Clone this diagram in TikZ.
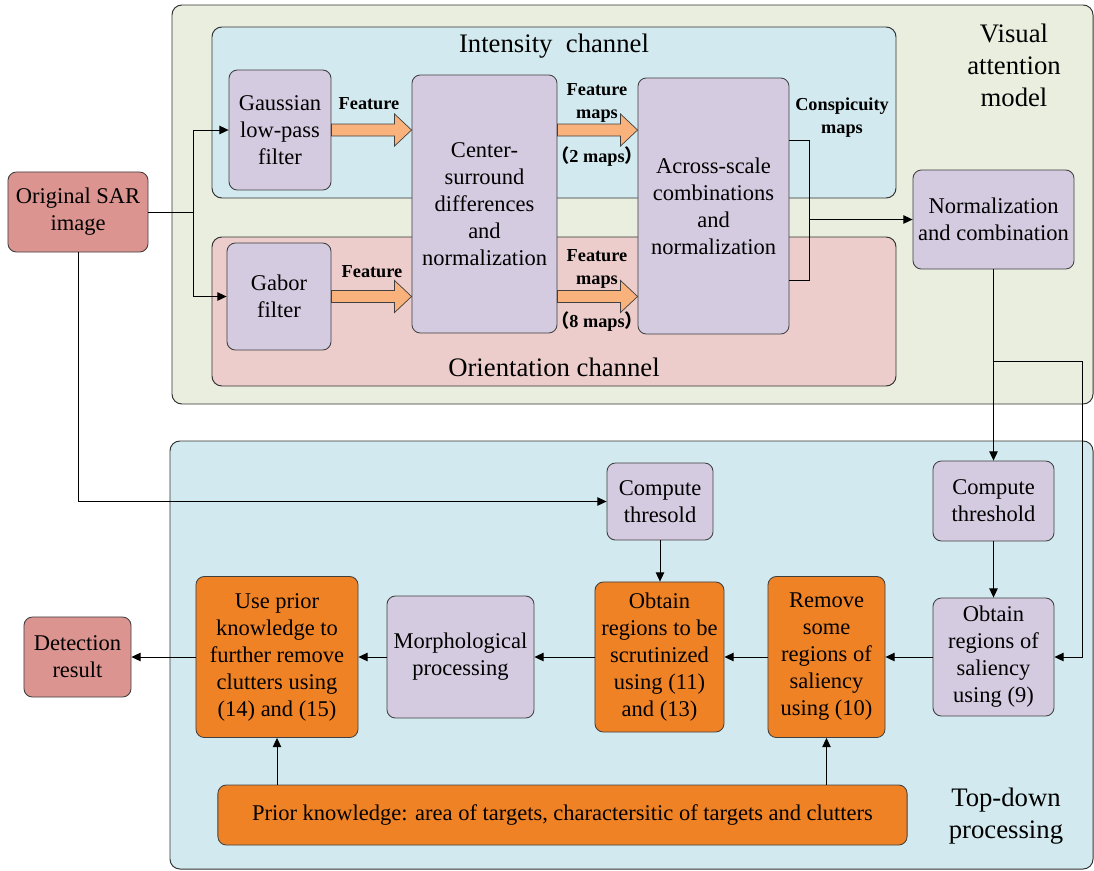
\documentclass[tikz,border=0pt]{standalone}
\usepackage{fontspec}
\setmainfont{Liberation Serif}
\newfontfamily\cjk{Noto Sans CJK SC}
\usepackage{xcolor}
\usetikzlibrary{calc,arrows.meta}
\definecolor{attncolor}{HTML}{EAEEDE}
\definecolor{intcolor}{HTML}{D2EAEF}
\definecolor{oricolor}{HTML}{ECCDCB}
\definecolor{topdowncolor}{HTML}{D2EAEF}
\definecolor{stepcolor}{HTML}{D4CBE0}
\definecolor{iocolor}{HTML}{DB9490}
\definecolor{rulecolor}{HTML}{F08226}
\definecolor{fatcolor}{HTML}{F9B27B}
\tikzset{
  panel/.style={draw=black!80, line width=0.7pt, rounded corners=7pt},
  box/.style={draw=black!75, line width=0.6pt, rounded corners=6pt, align=center, inner sep=0pt, font=\fontsize{16}{19.2}\selectfont},
  stepbox/.style={box, fill=stepcolor},
  iobox/.style={box, fill=iocolor},
  rulebox/.style={box, fill=rulecolor},
  link/.style={draw=black, line width=0.6pt},
  arr/.style={link, -{Triangle[length=6.5pt,width=6pt]}},
  fatarr/.style={draw=black!75, line width=0.5pt, fill=fatcolor},
  maplabel/.style={font=\bfseries\fontsize{13}{16.3}\selectfont, align=center, inner sep=0pt},
  paneltitle/.style={font=\fontsize{19}{22.7}\selectfont, align=center, inner sep=0pt}
}
\newcommand\fatarrow[2]{\draw[fatarr] ($(#1)+(0,-6)$) -- ($(#2)+(-17,-6)$) -- ($(#2)+(-17,-16)$) -- (#2) -- ($(#2)+(-17,16)$) -- ($(#2)+(-17,6)$) -- ($(#1)+(0,6)$) -- cycle;}
\begin{document}
\begin{tikzpicture}[x=0.025cm, y=-0.025cm]%
\useasboundingbox (0,0) rectangle (1094,870);%
\draw[panel, fill=attncolor] (172,5) rectangle (1093,404);%
\draw[panel, fill=intcolor] (212,27) rectangle (896,198);%
\draw[panel, fill=oricolor] (212,237) rectangle (896,386);%
\draw[panel, fill=topdowncolor] (170,441) rectangle (1093,869);%
\node[paneltitle] (inttitle) at (554,46) {Intensity\ \ channel};%
\node[paneltitle] (orititle) at (554,367) {Orientation channel};%
\node[paneltitle] (attntitle) at (1014,65) {Visual\\attention\\model};%
\node[paneltitle] (tdtitle) at (1006,816) {Top-down\\processing};%
\node[iobox, minimum width=3.5cm, minimum height=2cm] (sar) at (78,212) {Original SAR\\image};%
\node[stepbox, minimum width=2.55cm, minimum height=3cm] (gauss) at (280,130) {Gaussian\\low-pass\\filter};%
\node[stepbox, minimum width=2.6cm, minimum height=2.675cm] (gabor) at (279,296.5) {Gabor\\filter};%
\node[stepbox, minimum width=3.625cm, minimum height=6.45cm] (csd) at (484.5,204) {Center-\\surround\\differences\\and\\normalization};%
\node[stepbox, minimum width=3.775cm, minimum height=6.4cm] (across) at (713.5,206) {Across-scale\\combinations\\and\\normalization};%
\node[stepbox, minimum width=4.025cm, minimum height=2.475cm] (normc) at (993.5,219.5) {Normalization\\and combination};%
\node[stepbox, minimum width=2.65cm, minimum height=1.925cm] (cthrA) at (660,501.5) {Compute\\thresold};%
\node[stepbox, minimum width=3.025cm, minimum height=2cm] (cthrB) at (993.5,501) {Compute\\threshold};%
\node[stepbox, minimum width=3.025cm, minimum height=2.95cm] (salreg) at (993.5,657) {Obtain\\regions of\\saliency\\using (9)};%
\node[rulebox, minimum width=2.925cm, minimum height=4.025cm] (remove) at (826.5,657) {Remove\\some\\regions of\\saliency\\using (10)};%
\node[rulebox, minimum width=3.225cm, minimum height=3.75cm] (scrut) at (659.5,657) {Obtain\\regions to be\\scrutinized\\using (11)\\and (13)};%
\node[stepbox, minimum width=3.675cm, minimum height=3.05cm] (morph) at (460.5,657) {Morphological\\processing};%
\node[rulebox, minimum width=4.05cm, minimum height=4.025cm] (useprior) at (277,657) {Use prior\\knowledge to\\further remove\\clutters using\\(14) and (15)};%
\node[iobox, minimum width=2.675cm, minimum height=2cm] (detect) at (77.5,657) {Detection\\result};%
\node[rulebox, minimum width=17.225cm, minimum height=1.5cm] (prior) at (562.5,815) {Prior knowledge: area of targets, charactersitic of targets and clutters};%
\coordinate (fA) at (gauss.east -| csd.west);%
\coordinate (fB) at (gabor.east -| csd.west);%
\coordinate (mA0) at (csd.east |- gauss.east);%
\coordinate (mA) at (across.west |- gauss.east);%
\coordinate (mB0) at (csd.east |- gabor.east);%
\coordinate (mB) at (across.west |- gabor.east);%
\fatarrow{gauss.east}{fA}%
\fatarrow{gabor.east}{fB}%
\fatarrow{mA0}{mA}%
\fatarrow{mB0}{mB}%
\node[maplabel] (featA) at (369,104) {Feature};%
\node[maplabel] (featB) at (372,272) {Feature};%
\node[maplabel] (mapsA) at (597,103) {Feature\\maps};%
\node[maplabel] (cntA) at (597,157) {{\cjk （}2 maps{\cjk ）}};%
\node[maplabel] (mapsB) at (597,269) {Feature\\maps};%
\node[maplabel] (cntB) at (597,322) {{\cjk （}8 maps{\cjk ）}};%
\node[maplabel] (consp) at (842,118) {Conspicuity\\maps};%
\coordinate (split) at ($(sar.east)+(45,0)$);%
\draw[link] (sar.east) -- (split);%
\draw[arr] (split) |- (gauss.west);%
\draw[arr] (split) |- (gabor.west);%
\draw[arr] (sar.south) |- (cthrA.west);%
\coordinate (merge) at ($(normc.west)+(-103,0)$);%
\coordinate (bktA) at ($(across.east)+(0,-66)$);%
\coordinate (bktB) at ($(across.east)+(0,74)$);%
\draw[link] (bktA) -| (merge) |- (bktB);%
\draw[arr] (merge) -- (normc.west);%
\draw[arr] (normc.south) -- (cthrB.north);%
\coordinate (fork) at ($(normc.south)+(0,92)$);%
\draw[arr] (fork) -| ($(salreg.east)+(28,0)$) -- (salreg.east);%
\draw[arr] (cthrB.south) -- (salreg.north);%
\draw[arr] (cthrA.south) -- (cthrA.south |- scrut.north);%
\draw[arr] (salreg.west) -- (remove.east);%
\draw[arr] (remove.west) -- (scrut.east);%
\draw[arr] (scrut.west) -- (morph.east);%
\draw[arr] (morph.west) -- (useprior.east);%
\draw[arr] (useprior.west) -- (detect.east);%
\draw[arr] (prior.north -| useprior.south) -- (useprior.south);%
\draw[arr] (prior.north -| remove.south) -- (remove.south);%
\end{tikzpicture}
\end{document}
